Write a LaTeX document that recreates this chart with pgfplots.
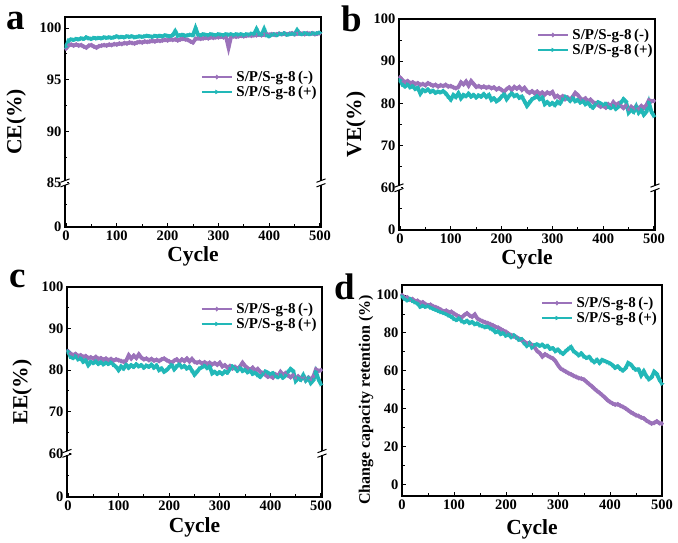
\documentclass[border=0pt]{standalone}
\usepackage{pgfplots}
\pgfplotsset{compat=1.18}
\usepackage{pgfplotstable}
\usepackage{fontspec}
\setmainfont{Liberation Serif}
\definecolor{pur}{RGB}{155,114,186}
\definecolor{tea}{RGB}{34,184,184}
\newcommand\ticfont{\fontsize{14.5}{16}\selectfont\bfseries}
\newcommand\labfont{\fontsize{21.5}{24}\selectfont\bfseries}
\newcommand\legfont{\fontsize{15}{17}\selectfont\bfseries}
\newcommand\letfont{\fontsize{37}{40}\selectfont\bfseries}
\newcommand\brk[1]{%
  \fill[white] ([shift={(-1.6pt,-1.9pt)}]#1) rectangle ([shift={(1.6pt,1.9pt)}]#1);
  \draw[line width=1pt] ([shift={(-4.5pt,-4pt)}]#1) -- ([shift={(4.5pt,-0.6pt)}]#1);
  \draw[line width=1pt] ([shift={(-4.5pt,0.6pt)}]#1) -- ([shift={(4.5pt,4pt)}]#1);}

\pgfplotsset{
 panel/.style={scale only axis, xmin=-2, xmax=502, xtick={0,100,...,500},
   xticklabels={\textbf{0},\textbf{100},\textbf{200},\textbf{300},\textbf{400},\textbf{500}},
   minor xtick={50,150,...,450}, tick align=inside, xtick pos=lower, ytick pos=left,
   axis line style={line width=1.2pt}, major tick length=4pt, minor tick length=2.5pt,
   every tick/.append style={line width=1pt, black},
   tick label style={font=\ticfont},
   label style={font=\labfont}, xlabel={Cycle},
   legend cell align=left,
   legend style={draw=none, fill=none, font=\legfont, inner sep=0pt, row sep=1pt,
     column sep=3pt, nodes={inner sep=1pt}, anchor=north west},
   legend image code/.code={\draw[mark repeat=2, mark phase=2, #1, line width=1.3pt]
     plot coordinates {(0pt,0pt) (15pt,0pt) (30pt,0pt)};}},
 sm/.style={pur, line width=3.8pt, mark=diamond*, mark size=2.1pt, mark options={solid, line width=0.5pt}},
 sp/.style={tea, line width=3.8pt, mark=triangle*, mark size=2.1pt, mark options={solid, rotate=-90, line width=0.5pt}},
}

\pgfplotstableread{
x m p
0 98.00 98.20
5 98.30 98.80
10 98.40 98.90
15 98.30 98.85
20 98.40 98.95
25 98.30 98.90
30 98.35 99.00
35 98.20 98.95
40 98.10 99.10
45 98.30 99.00
50 98.35 98.95
55 98.20 99.05
60 98.10 99.00
65 98.25 99.05
70 98.30 99.00
75 98.35 99.10
80 98.30 99.05
85 98.40 99.10
90 98.35 99.05
95 98.45 99.10
100 98.40 99.20
105 98.50 99.10
110 98.45 99.15
115 98.55 99.10
120 98.50 99.20
125 98.60 99.15
130 98.55 99.20
135 98.50 99.10
140 98.60 99.15
145 98.65 99.20
150 98.60 99.15
155 98.70 99.20
160 98.65 99.25
165 98.70 99.20
170 98.75 99.15
175 98.70 99.25
180 98.80 99.20
185 98.75 99.25
190 98.80 99.20
195 98.85 99.30
200 98.80 99.25
205 98.90 99.20
210 98.85 99.30
215 98.90 99.70
220 98.80 99.25
225 98.90 99.30
230 98.95 99.35
235 98.90 99.25
240 98.85 99.30
245 98.70 99.35
250 98.60 99.30
255 98.95 100.00
260 99.00 99.35
265 98.95 99.30
270 99.00 99.40
275 99.05 99.35
280 99.00 99.30
285 99.10 99.40
290 99.05 99.35
295 99.10 99.30
300 99.10 99.40
305 99.15 99.35
310 99.10 99.30
315 99.15 99.40
320 98.10 99.35
325 99.15 99.40
330 99.20 99.30
335 99.15 99.40
340 99.20 99.35
345 99.25 99.40
350 99.20 99.30
355 99.25 99.40
360 99.30 99.35
365 99.25 99.45
370 99.30 99.40
375 99.30 99.90
380 99.35 99.40
385 99.30 99.35
390 99.35 99.90
395 99.40 99.30
400 99.35 99.20
405 99.40 99.35
410 99.35 99.40
415 99.40 99.30
420 99.45 99.45
425 99.40 99.40
430 99.45 99.50
435 99.40 99.35
440 99.45 99.40
445 99.50 99.45
450 99.40 99.40
455 99.45 99.80
460 99.50 99.45
465 99.45 99.40
470 99.40 99.50
475 99.50 99.45
480 99.45 99.40
485 99.50 99.50
490 99.40 99.45
495 99.45 99.50
500 99.50 99.55
}\tabCE

\pgfplotstableread{
x m p
0 86.2 85.5
5 85.5 84.4
10 85.0 84.0
15 85.3 84.5
20 84.8 83.8
25 85.0 84.1
30 84.6 83.4
35 84.8 83.7
40 84.4 82.3
45 84.6 83.2
50 84.3 82.9
55 84.8 83.3
60 84.5 82.7
65 84.2 83.0
70 84.4 82.5
75 84.0 82.8
80 84.3 82.6
85 84.1 82.9
90 84.4 82.4
95 84.0 81.6
100 84.1 80.9
105 83.8 82.0
110 83.6 81.5
115 83.9 82.4
120 85.0 81.2
125 84.5 82.0
130 85.2 81.7
135 84.2 82.3
140 85.3 81.6
145 84.6 82.0
150 83.9 81.4
155 84.1 81.9
160 83.8 81.6
165 84.0 82.2
170 83.7 81.5
175 83.9 82.0
180 83.6 80.8
185 83.8 81.2
190 83.3 80.5
195 83.6 80.9
200 83.2 81.6
205 82.8 82.2
210 83.4 81.0
215 83.8 81.8
220 83.2 82.4
225 83.9 81.7
230 83.5 82.0
235 83.9 81.3
240 83.2 81.6
245 83.7 80.5
250 82.9 79.4
255 82.5 80.2
260 82.9 81.0
265 82.4 81.3
270 82.8 81.7
275 82.2 81.0
280 82.6 81.4
285 82.1 79.8
290 82.6 80.3
295 82.3 79.7
300 82.7 80.1
305 81.5 79.6
310 81.8 80.4
315 81.3 80.0
320 81.7 81.0
325 81.0 81.6
330 81.4 81.2
335 80.9 80.6
340 81.6 81.3
345 82.5 80.5
350 82.0 80.8
355 81.2 80.2
360 80.8 80.6
365 81.2 79.8
370 80.5 80.2
375 80.9 79.4
380 80.3 79.0
385 80.0 79.8
390 79.6 80.3
395 79.2 80.0
400 79.4 79.6
405 79.0 79.9
410 79.8 79.2
415 79.3 78.9
420 80.3 79.4
425 79.6 78.7
430 80.0 79.2
435 79.4 80.2
440 78.9 81.0
445 79.5 80.4
450 78.5 77.8
455 79.2 78.5
460 78.7 78.0
465 79.3 79.3
470 78.8 77.8
475 79.4 78.5
480 78.9 77.3
485 79.6 78.0
490 80.8 80.2
495 80.5 78.0
500 80.6 77.0
}\tabVE

\pgfplotstableread{
x m p
0 84.6 84.5
5 84.0 83.2
10 83.6 82.9
15 83.9 83.4
20 83.4 82.6
25 83.6 82.9
30 83.2 82.0
35 83.4 82.4
40 82.9 81.2
45 83.1 82.0
50 82.8 81.7
55 83.2 82.1
60 82.7 81.5
65 82.9 81.9
70 82.5 81.4
75 82.8 81.8
80 82.4 81.5
85 82.7 81.9
90 82.3 81.3
95 82.6 80.8
100 82.4 80.0
105 82.2 80.9
110 82.0 80.4
115 82.3 81.3
120 83.6 80.6
125 82.8 81.2
130 83.5 80.8
135 82.9 81.4
140 83.8 80.9
145 83.0 81.2
150 82.6 80.6
155 82.8 81.1
160 82.4 80.8
165 82.7 81.3
170 82.3 80.6
175 82.5 81.1
180 82.2 80.0
185 82.6 80.4
190 82.8 79.6
195 82.4 80.0
200 82.1 80.7
205 81.8 81.3
210 82.3 80.2
215 82.6 80.9
220 82.0 81.4
225 82.6 80.7
230 82.2 81.0
235 82.8 80.4
240 82.1 80.8
245 82.7 79.9
250 82.0 78.9
255 81.8 79.6
260 82.0 80.4
265 81.6 80.7
270 81.9 81.1
275 81.5 80.5
280 81.8 80.9
285 81.4 79.2
290 81.7 79.6
295 81.3 79.1
300 81.8 79.5
305 80.9 79.1
310 81.2 79.7
315 80.6 79.4
320 81.0 80.3
325 80.4 80.9
330 80.8 80.5
335 80.3 79.9
340 80.9 80.6
345 81.8 79.8
350 81.0 80.1
355 80.5 79.5
360 80.1 79.9
365 80.6 79.1
370 79.9 79.4
375 80.3 78.8
380 79.6 78.4
385 79.3 79.1
390 78.9 79.7
395 78.4 79.4
400 78.6 79.0
405 78.2 79.3
410 79.0 78.6
415 78.6 78.3
420 79.6 78.8
425 78.9 78.2
430 79.3 78.7
435 78.7 79.6
440 78.3 80.3
445 78.8 79.8
450 77.9 77.4
455 78.5 78.1
460 77.9 77.7
465 78.5 78.8
470 77.6 77.5
475 78.2 78.1
480 77.8 76.9
485 78.5 77.6
490 80.2 79.6
495 79.8 77.8
500 80.0 76.6
}\tabEE

\pgfplotstableread{
x m p
0 100.0 99.2
5 98.5 98.0
10 98.8 97.2
15 97.6 98.0
20 97.9 97.0
25 96.8 96.2
30 97.0 95.6
35 95.9 93.8
40 96.2 94.4
45 95.2 93.8
50 94.6 94.2
55 94.9 93.4
60 94.0 92.8
65 93.6 92.2
70 93.0 91.6
75 92.2 91.0
80 91.4 90.6
85 91.8 90.0
90 91.0 89.2
95 91.2 88.6
100 90.2 87.4
105 89.4 86.8
110 88.6 87.8
115 88.2 86.2
120 89.5 85.6
125 90.4 86.4
130 89.2 85.2
135 88.5 85.8
140 89.8 84.6
145 87.6 85.0
150 86.8 84.0
155 86.2 83.6
160 85.6 83.0
165 85.2 83.4
170 84.6 82.4
175 84.0 81.8
180 83.2 80.4
185 82.8 80.9
190 82.0 79.4
195 81.2 80.0
200 80.6 78.6
205 79.6 79.2
210 78.8 77.8
215 78.2 78.8
220 77.8 77.6
225 76.9 76.4
230 76.2 76.8
235 75.5 74.6
240 74.4 73.2
245 74.8 74.6
250 73.6 72.4
255 72.4 73.6
260 70.4 74.0
265 69.4 73.2
270 67.5 73.8
275 68.8 72.6
280 68.0 73.2
285 67.2 71.6
290 66.6 72.0
295 65.2 70.4
300 63.0 71.2
305 61.2 69.8
310 60.4 69.0
315 59.6 70.4
320 58.8 71.6
325 58.2 72.6
330 57.4 70.4
335 56.8 69.4
340 56.2 68.2
345 55.9 69.2
350 55.4 67.6
355 54.2 66.8
360 53.0 67.4
365 51.9 65.6
370 50.6 64.6
375 49.4 65.8
380 48.4 64.2
385 47.2 65.8
390 46.0 65.2
395 44.6 64.6
400 43.6 64.0
405 42.8 63.0
410 42.2 61.6
415 42.4 62.4
420 41.6 61.0
425 41.0 60.2
430 40.2 61.4
435 39.2 64.2
440 38.2 63.4
445 37.4 61.6
450 36.6 60.6
455 36.2 60.8
460 35.4 57.6
465 35.0 59.8
470 33.8 57.2
475 33.0 55.6
480 32.2 56.6
485 32.6 59.6
490 33.4 58.4
495 32.4 55.4
500 32.2 53.2
}\tabCR

\begin{document}
\begin{tikzpicture}
\path[use as bounding box] (0,0) rectangle (678pt,543pt);

% ---- a ----
\begin{axis}[panel, at={(65pt,316pt)}, anchor=south west, width=256pt, height=210pt,
  ymin=80.73, ymax=101.07,
  ytick={80.73,85,90,95,100},
  yticklabels={\textbf{0},\textbf{85},\textbf{90},\textbf{95},\textbf{100}},
  minor ytick={82.87,87.5,92.5,97.5},
  ylabel={CE(\%)},
  ylabel style={at={(axis description cs:-0.191,0.5)}, anchor=center},
  xlabel style={at={(axis description cs:0.5,-0.138)}, anchor=center},
  legend style={at={(axis description cs:0.531,0.748)}}]
\addplot[sm] table[x=x,y=m] {\tabCE};
\addplot[sp] table[x=x,y=p] {\tabCE};
\legend{S/P/S-g-8\,(-), S/P/S-g-8\,(+)}
\coordinate (aL) at (axis cs:-2,85);
\coordinate (aR) at (axis cs:502,85);
\end{axis}

% ---- b ----
\begin{axis}[panel, at={(399pt,313pt)}, anchor=south west, width=256pt, height=211pt,
  ymin=50, ymax=100,
  ytick={50,60,70,80,90,100},
  yticklabels={\textbf{0},\textbf{60},\textbf{70},\textbf{80},\textbf{90},\textbf{100}},
  minor ytick={55,65,75,85,95},
  ylabel={VE(\%)},
  ylabel style={at={(axis description cs:-0.168,0.5)}, anchor=center},
  xlabel style={at={(axis description cs:0.5,-0.138)}, anchor=center},
  legend style={at={(axis description cs:0.539,0.958)}}]
\addplot[sm] table[x=x,y=m] {\tabVE};
\addplot[sp] table[x=x,y=p] {\tabVE};
\legend{S/P/S-g-8\,(-), S/P/S-g-8\,(+)}
\coordinate (bL) at (axis cs:-2,60);
\coordinate (bR) at (axis cs:502,60);
\end{axis}

% ---- c ----
\begin{axis}[panel, at={(67pt,46pt)}, anchor=south west, width=255pt, height=210pt,
  ymin=49.5, ymax=100,
  ytick={49.5,60,70,80,90,100},
  yticklabels={\textbf{0},\textbf{60},\textbf{70},\textbf{80},\textbf{90},\textbf{100}},
  minor ytick={54.75,65,75,85,95},
  ylabel={EE(\%)},
  ylabel style={at={(axis description cs:-0.176,0.5)}, anchor=center},
  xlabel style={at={(axis description cs:0.5,-0.146)}, anchor=center},
  legend style={at={(axis description cs:0.525,0.929)}}]
\addplot[sm] table[x=x,y=m] {\tabEE};
\addplot[sp] table[x=x,y=p] {\tabEE};
\legend{S/P/S-g-8\,(-), S/P/S-g-8\,(+)}
\coordinate (cL) at (axis cs:-2,60);
\coordinate (cR) at (axis cs:502,60);
\end{axis}

% ---- d ----
\begin{axis}[panel, at={(402pt,47pt)}, anchor=south west, width=260pt, height=211pt,
  xmin=0, xmax=500,
  ymin=-6, ymax=105.3,
  ytick={0,20,40,60,80,100},
  yticklabels={\textbf{0},\textbf{20},\textbf{40},\textbf{60},\textbf{80},\textbf{100}},
  minor ytick={10,30,...,90},
  ylabel={Change capacity retention (\%)},
  ylabel style={at={(axis description cs:-0.138,0.455)}, anchor=center, font=\fontsize{16}{18}\selectfont\bfseries},
  xlabel style={at={(axis description cs:0.5,-0.158)}, anchor=center},
  legend style={at={(axis description cs:0.535,0.948)}}]
\addplot[sm] table[x=x,y=m] {\tabCR};
\addplot[sp] table[x=x,y=p] {\tabCR};
\legend{S/P/S-g-8\,(-), S/P/S-g-8\,(+)}
\end{axis}

\brk{aL}\brk{aR}\brk{bL}\brk{bR}\brk{cL}\brk{cR}

\node[anchor=base west, font=\letfont, inner sep=0pt] at (6pt,513pt) {a};
\node[anchor=base west, font=\letfont, inner sep=0pt] at (341pt,511pt) {b};
\node[anchor=base west, font=\letfont, inner sep=0pt] at (9pt,255pt) {c};
\node[anchor=base west, font=\letfont, inner sep=0pt] at (334pt,243pt) {d};
\end{tikzpicture}
\end{document}
